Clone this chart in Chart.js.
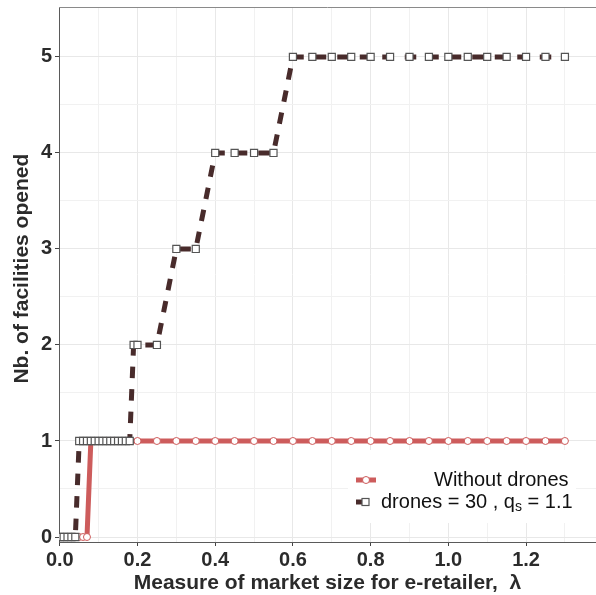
<!DOCTYPE html>
<html>
<head>
<meta charset="utf-8">
<script src="https://cdn.jsdelivr.net/npm/chart.js@4"></script>
<style>
  html,body{margin:0;padding:0;background:#fff;}
  #c{display:block;}
</style>
</head>
<body>
<canvas id="c" width="596" height="595"></canvas>
<script>
// data
var noDroneX = [0,0.01,0.02,0.03,0.04,0.05,0.06,0.07,0.08,0.09,0.1,0.11,0.12,0.13,0.14,0.15,0.16,0.17,0.18,
  0.2,0.25,0.3,0.35,0.4,0.45,0.5,0.55,0.6,0.65,0.7,0.75,0.8,0.85,0.9,0.95,1.0,1.05,1.1,1.15,1.2,1.25,1.3];
var noDroneY = [0,0,0,0,0,0,0,0,1,1,1,1,1,1,1,1,1,1,1,
  1,1,1,1,1,1,1,1,1,1,1,1,1,1,1,1,1,1,1,1,1,1,1];
var droneX = [0,0.01,0.02,0.03,0.04,
  0.05,0.06,0.07,0.08,0.09,0.1,0.11,0.12,0.13,0.14,0.15,0.16,0.17,0.18,
  0.19,0.2,0.25,0.3,0.35,0.4,0.45,0.5,0.55,
  0.6,0.65,0.7,0.75,0.8,0.85,0.9,0.95,1.0,1.05,1.1,1.15,1.2,1.25,1.3];
var droneY = [0,0,0,0,0,
  1,1,1,1,1,1,1,1,1,1,1,1,1,1,
  2,2,2,3,3,4,4,4,4,
  5,5,5,5,5,5,5,5,5,5,5,5,5,5,5];
var xTicks = [0,0.1,0.2,0.3,0.4,0.5,0.6,0.7,0.8,0.9,1.0,1.1,1.2,1.3];
var yTicks = [0,0.5,1,1.5,2,2.5,3,3.5,4,4.5,5];

var RED = '#cd5c5c', DARK = '#482b2b';
var FONT = "'Liberation Sans', Arial, sans-serif";

function pts(xs, ys){ return xs.map(function(x,i){return {x:x,y:ys[i]};}); }
function isMajor(v, step){ return Math.abs(Math.round(v/step)*step - v) < 1e-6; }
function noPad(s){ s.paddingTop = 0; s.paddingBottom = 0; s.paddingLeft = 0; s.paddingRight = 0; }

// top border + legend box
var extras = {
  id:'extras',
  afterDatasetsDraw:function(chart){
    var ctx = chart.ctx, a = chart.chartArea;
    ctx.save();
    ctx.strokeStyle = '#8a8a8a'; ctx.lineWidth = 1;
    ctx.beginPath(); ctx.moveTo(a.left, a.top+0.5); ctx.lineTo(a.right, a.top+0.5); ctx.stroke();

    // legend
    ctx.fillStyle = '#fff';
    ctx.fillRect(348, 450, 228, 73);
    ctx.lineCap = 'butt';
    ctx.strokeStyle = RED; ctx.lineWidth = 5;
    ctx.beginPath(); ctx.moveTo(356, 480); ctx.lineTo(376, 480); ctx.stroke();
    ctx.fillStyle = '#fff'; ctx.strokeStyle = RED; ctx.lineWidth = 1;
    ctx.beginPath(); ctx.arc(366, 480, 3.5, 0, Math.PI*2); ctx.fill(); ctx.stroke();
    ctx.strokeStyle = DARK; ctx.lineWidth = 5;
    ctx.beginPath(); ctx.moveTo(356, 502); ctx.lineTo(364, 502); ctx.stroke();
    ctx.fillStyle = '#fff'; ctx.strokeStyle = '#555'; ctx.lineWidth = 1.2;
    ctx.fillRect(362, 498.5, 7, 7); ctx.strokeRect(362, 498.5, 7, 7);

    ctx.fillStyle = '#111'; ctx.textBaseline = 'middle'; ctx.textAlign = 'left';
    ctx.font = '20px ' + FONT;
    ctx.fillText('Without drones', 434, 480);
    var x = 381, s1 = 'drones = 30 , q';
    ctx.fillText(s1, x, 502); x += ctx.measureText(s1).width;
    ctx.font = '14px ' + FONT;
    ctx.fillText('s', x, 507); x += ctx.measureText('s').width;
    ctx.font = '20px ' + FONT;
    ctx.fillText(' = 1.1', x, 502);
    ctx.restore();
  }
};

new Chart(document.getElementById('c'), {
  type:'line',
  data:{
    datasets:[
      {label:'Without drones', data:pts(noDroneX, noDroneY), order:2,
       borderColor:RED, borderWidth:5, backgroundColor:'#fff',
       pointStyle:'circle', pointRadius:3.5, pointBorderColor:RED, pointBorderWidth:1,
       pointBackgroundColor:'#fff', tension:0},
      {label:'drones = 30 , qs = 1.1', data:pts(droneX, droneY), order:1,
       borderColor:DARK, borderWidth:5, borderDash:[11.5,11], backgroundColor:'#fff',
       pointStyle:'rect', pointRadius:5, pointBorderColor:'#555', pointBorderWidth:1.2,
       pointBackgroundColor:'#fff', tension:0}
    ]
  },
  options:{
    responsive:false, animation:false,
    layout:{padding:{top:7, left:0, right:0, bottom:0}, autoPadding:false},
    plugins:{legend:{display:false}, tooltip:{enabled:false}},
    scales:{
      x:{type:'linear', min:-0.002, max:1.38,
        afterBuildTicks:function(s){ s.ticks = xTicks.map(function(v){return {value:v};}); },
        afterFit:function(s){ s.height = 53; noPad(s); },
        ticks:{padding:2, color:'#2b2b2b', font:{family:FONT, size:20, weight:'bold'},
          maxRotation:0, autoSkip:false,
          callback:function(v){ return isMajor(v,0.2) ? v.toFixed(1) : ''; }},
        grid:{tickLength:4,
          color:function(c){ return c.tick && isMajor(c.tick.value,0.2) ? '#e8e8e8' : '#f1f1f1'; },
          tickColor:function(c){ return c.tick && isMajor(c.tick.value,0.2) ? '#444' : 'rgba(0,0,0,0)'; }},
        border:{display:true, color:'#5a5a5a', width:1},
        title:{display:true, text:'Measure of market size for e-retailer,  λ', color:'#2b2b2b',
          font:{family:FONT, size:21, weight:'bold', lineHeight:1}, padding:{top:0, bottom:1}}
      },
      y:{type:'linear', min:-0.052, max:5.52,
        afterBuildTicks:function(s){ s.ticks = yTicks.map(function(v){return {value:v};}); },
        afterFit:function(s){ s.width = 59; noPad(s); },
        ticks:{padding:3, color:'#2b2b2b', font:{family:FONT, size:20, weight:'bold'},
          callback:function(v){ return isMajor(v,1) ? String(v) : ''; }},
        grid:{tickLength:4,
          color:function(c){ return c.tick && isMajor(c.tick.value,1) ? '#e8e8e8' : '#f1f1f1'; },
          tickColor:function(c){ return c.tick && isMajor(c.tick.value,1) ? '#444' : 'rgba(0,0,0,0)'; }},
        border:{display:true, color:'#5a5a5a', width:1},
        title:{display:true, text:'  Nb. of facilities opened', color:'#2b2b2b',
          font:{family:FONT, size:21, weight:'bold', lineHeight:1}, padding:{top:12, bottom:0}}
      }
    }
  },
  plugins:[extras]
});
</script>
</body>
</html>
